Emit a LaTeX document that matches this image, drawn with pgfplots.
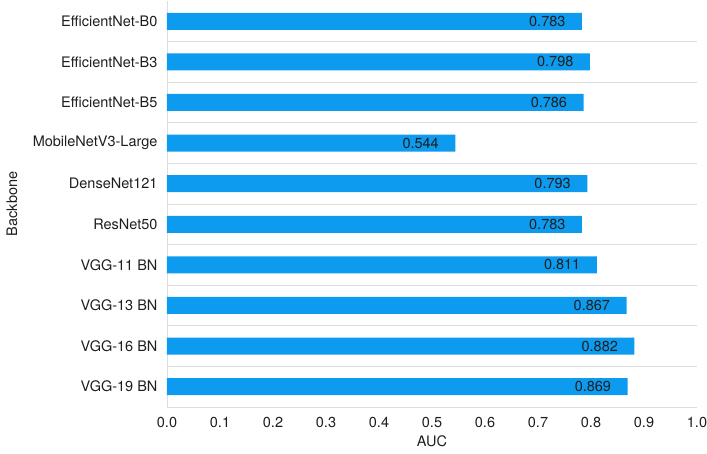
\documentclass[border=0pt]{standalone}
\usepackage{fontspec}
\setmainfont{TeX Gyre Heros}
\usepackage{pgfplots}
\pgfplotsset{compat=1.18}
\definecolor{barblue}{RGB}{12,155,238}
\definecolor{sepgray}{RGB}{222,222,222}
\definecolor{txt}{RGB}{30,30,30}
\newcommand\f{\fontsize{14.5pt}{17pt}\selectfont}
\begin{document}
\begin{tikzpicture}
\begin{axis}[
  scale only axis,
  width=530pt, height=406pt,
  xbar, bar width=17pt,
  xmin=0, xmax=1,
  ymin=-0.5, ymax=9.5,
  y dir=reverse,
  ytick={0,...,9},
  yticklabels={EfficientNet-B0,EfficientNet-B3,EfficientNet-B5,MobileNetV3-Large,DenseNet121,ResNet50,VGG-11 BN,VGG-13 BN,VGG-16 BN,VGG-19 BN},
  xtick={0,0.1,...,1.0},
  xticklabel style={yshift=-7pt, /pgf/number format/.cd,fixed,fixed zerofill,precision=1},
  /pgf/number format/assume math mode=true,
  minor ytick={0.5,1.5,...,8.5},
  yminorgrids=true,
  minor grid style={sepgray, line width=0.8pt},
  major tick length=0pt, minor tick length=0pt,
  axis x line*=bottom, axis y line*=left,
  axis line style={sepgray, line width=0.8pt, -},
  tick label style={font=\f, text=txt},
  yticklabel style={xshift=-6pt},
  every axis y label/.style={at={(axis description cs:-0.2925,0.5)}, rotate=90, anchor=center, font=\f, text=txt},
  every axis x label/.style={at={(axis description cs:0.5,0)}, anchor=center, yshift=-34pt, font=\f, text=txt},
  xlabel={AUC}, ylabel={Backbone},
  point meta=x,
  nodes near coords={\pgfmathprintnumber[fixed,fixed zerofill,precision=3]{\pgfplotspointmeta}},
  every node near coord/.append style={anchor=east, xshift=-13pt, font=\f, text=txt},
]
\addplot[fill=barblue, draw=none] coordinates {
(0.783,0) (0.798,1) (0.786,2) (0.544,3) (0.793,4)
(0.783,5) (0.811,6) (0.867,7) (0.882,8) (0.869,9)};
\end{axis}
\pgfresetboundingbox
\path (current axis.south west) ++(-167pt,-47pt) rectangle ++(707pt,454pt);
\end{tikzpicture}
\end{document}
